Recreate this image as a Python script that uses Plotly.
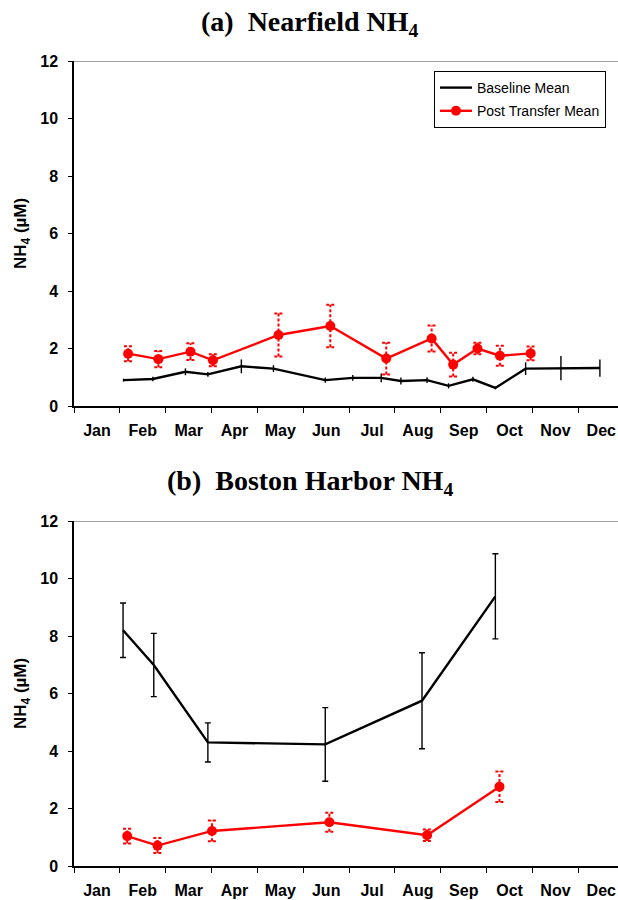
import plotly.graph_objects as go

MONTHS = ["Jan", "Feb", "Mar", "Apr", "May", "Jun",
          "Jul", "Aug", "Sep", "Oct", "Nov", "Dec"]

# (a) Nearfield NH4 — x in fractional months from 1 January
nf_base_x = [1.08, 1.72, 2.43, 2.92, 3.65, 4.35, 5.48, 6.08, 6.70, 7.13,
             7.70, 8.17, 8.70, 9.19, 9.85, 10.62, 11.47]
nf_base_y = [0.90, 0.94, 1.19, 1.10, 1.38, 1.30, 0.90, 0.98, 0.98, 0.87,
             0.90, 0.70, 0.93, 0.63, 1.30, 1.32, 1.32]
nf_base_err = [0.05, 0.08, 0.12, 0.08, 0.24, 0.12, 0.09, 0.10, 0.15, 0.12,
               0.10, 0.09, 0.09, 0.05, 0.22, 0.42, 0.30]
nf_post_x = [1.18, 1.84, 2.54, 3.03, 4.46, 5.59, 6.81, 7.80, 8.27, 8.80, 9.29, 9.96]
nf_post_y = [1.82, 1.63, 1.89, 1.59, 2.47, 2.78, 1.65, 2.35, 1.44, 2.00, 1.75, 1.83]
nf_post_err = [0.26, 0.28, 0.29, 0.21, 0.75, 0.74, 0.55, 0.45, 0.41, 0.20, 0.35, 0.24]

# (b) Boston Harbor NH4
bh_base_x = [1.07, 1.74, 2.92, 5.48, 7.59, 9.19]
bh_base_y = [8.20, 6.99, 4.30, 4.23, 5.75, 9.38]
bh_base_err = [0.95, 1.10, 0.68, 1.28, 1.67, 1.48]
bh_post_x = [1.16, 1.82, 3.01, 5.57, 7.70, 9.28]
bh_post_y = [1.04, 0.71, 1.22, 1.52, 1.07, 2.76]
bh_post_err = [0.26, 0.26, 0.36, 0.33, 0.20, 0.53]

Y_TICKS = [0, 2, 4, 6, 8, 10, 12]

FONT = "Arial, Liberation Sans, sans-serif"
SERIF = "Times New Roman, Liberation Serif, serif"
RED = "#ff0000"


def dashed_error_segments(xs, ys, es, cap=0.09):
    """Vertical bar plus two caps per point, separated by None gaps."""
    sx, sy = [], []
    for x, y, e in zip(xs, ys, es):
        sx += [x, x, None, x - cap, x + cap, None, x - cap, x + cap, None]
        sy += [y - e, y + e, None, y - e, y - e, None, y + e, y + e, None]
    return sx, sy


fig = go.Figure()


def add_panel(xa, ya, bx, by, be, px, py, pe, base_cap, show_legend):
    # baseline mean with solid error bars
    fig.add_trace(go.Scatter(
        x=bx, y=by, mode="lines", name="Baseline Mean",
        line=dict(color="black", width=2.4),
        error_y=dict(type="data", array=be, visible=True, color="black",
                     thickness=1.4, width=base_cap),
        xaxis=xa, yaxis=ya, showlegend=show_legend, legendgroup="base"))
    # dotted red error bars for post transfer mean
    ex, ey = dashed_error_segments(px, py, pe)
    fig.add_trace(go.Scatter(
        x=ex, y=ey, mode="lines", hoverinfo="skip",
        line=dict(color=RED, width=2, dash="3px,2px"),
        xaxis=xa, yaxis=ya, showlegend=False))
    fig.add_trace(go.Scatter(
        x=px, y=py, mode="lines+markers", name="Post Transfer Mean",
        line=dict(color=RED, width=2.4),
        marker=dict(color=RED, size=10, symbol="circle"),
        xaxis=xa, yaxis=ya, showlegend=show_legend, legendgroup="post"))


add_panel("x", "y", nf_base_x, nf_base_y, nf_base_err,
          nf_post_x, nf_post_y, nf_post_err, 0, True)
add_panel("x2", "y2", bh_base_x, bh_base_y, bh_base_err,
          bh_post_x, bh_post_y, bh_post_err, 3, False)

W, H = 618, 900
x_dom = [74 / W, 1.0]
top_dom = [1 - 406 / H, 1 - 61 / H]
bot_dom = [1 - 866 / H, 1 - 521 / H]

xaxis_common = dict(
    range=[0, (W - 74) / 45.85],
    tickmode="array",
    tickvals=[i + 0.5 for i in range(12)],
    ticktext=MONTHS,
    ticks="", ticklabelstandoff=9,
    minor=dict(tickmode="array", tickvals=list(range(12)), ticks="outside",
               ticklen=5, tickcolor="black", tickwidth=1.2, showgrid=False),
    showline=True, linecolor="black", linewidth=1.5,
    showgrid=False, zeroline=False, automargin=False,
    tickfont=dict(family=FONT, size=16, color="black", weight="bold"),
)
yaxis_common = dict(
    range=[0, 12],
    tickmode="array", tickvals=Y_TICKS,
    ticks="outside", ticklen=4, tickcolor="black", tickwidth=1.2,
    ticklabelstandoff=7,
    showline=True, linecolor="black", linewidth=1.5,
    showgrid=False, zeroline=False, automargin=False,
    tickfont=dict(family=FONT, size=16, color="black", weight="bold"),
)

fig.update_layout(
    width=W, height=H,
    margin=dict(l=0, r=0, t=0, b=0, autoexpand=False),
    paper_bgcolor="white", plot_bgcolor="white",
    xaxis=dict(domain=x_dom, anchor="y", **xaxis_common),
    yaxis=dict(domain=top_dom, anchor="x", **yaxis_common),
    xaxis2=dict(domain=x_dom, anchor="y2", **xaxis_common),
    yaxis2=dict(domain=bot_dom, anchor="x2", **yaxis_common),
    legend=dict(
        x=434 / W, y=1 - 71 / H, xanchor="left", yanchor="top",
        bordercolor="black", borderwidth=1, bgcolor="white",
        font=dict(family=FONT, size=14, color="black"),
        tracegroupgap=2, itemwidth=32,
    ),
    showlegend=True,
)

# grey frame line along the top of each plot area
for xref, yref in (("x domain", "y"), ("x2 domain", "y2")):
    fig.add_shape(type="line", xref=xref, yref=yref, x0=0, x1=1, y0=12, y1=12,
                  line=dict(color="#808080", width=1.5))

titles = [("(a)  Nearfield NH<sub>4</sub>", 23),
          ("(b)  Boston Harbor NH<sub>4</sub>", 482)]
for text, ypx in titles:
    fig.add_annotation(text="<b>" + text + "</b>", xref="paper", yref="paper",
                       x=310 / W, y=1 - ypx / H, xanchor="center", yanchor="middle",
                       showarrow=False,
                       font=dict(family=SERIF, size=28, color="black"))

for ypx in (234, 694):
    fig.add_annotation(text="<b>NH<sub>4</sub> (µM)</b>", xref="paper", yref="paper",
                       x=22 / W, y=1 - ypx / H, xanchor="center", yanchor="middle",
                       showarrow=False, textangle=-90,
                       font=dict(family=FONT, size=17, color="black"))

fig.write_html("out.html")
